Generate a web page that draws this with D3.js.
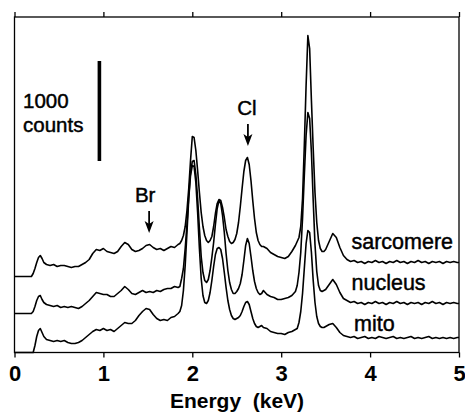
<!DOCTYPE html>
<html>
<head>
<meta charset="utf-8">
<script src="https://cdn.jsdelivr.net/npm/d3@7"></script>
<style>
  html, body { margin: 0; padding: 0; background: #fff; }
  svg { display: block; }
  text { font-family: "Liberation Sans", Arial, Helvetica, sans-serif; fill: #000; }
</style>
</head>
<body>
<svg id="chart" width="465" height="414"></svg>
<script>
// ---------- data ----------
const energyKeV = [
  0, 0.10, 0.19, 0.21, 0.23, 0.25, 0.27, 0.29, 0.31, 0.33, 0.36,
  0.40, 0.44, 0.48, 0.52, 0.56, 0.60, 0.64, 0.68, 0.72, 0.76, 0.80, 0.84, 0.88, 0.92, 0.96,
  1.00, 1.04, 1.08, 1.12, 1.16, 1.20, 1.24, 1.28, 1.32, 1.36, 1.40, 1.44, 1.48, 1.52, 1.56,
  1.60, 1.64, 1.68, 1.72, 1.76, 1.80, 1.84,
  1.86, 1.88, 1.90, 1.92, 1.94, 1.96, 1.98, 2.00, 2.02, 2.04, 2.06, 2.08, 2.10, 2.12, 2.14,
  2.16, 2.18, 2.20, 2.22, 2.24, 2.26, 2.28, 2.30, 2.32, 2.34, 2.36, 2.38, 2.40, 2.42, 2.44,
  2.46, 2.48, 2.50, 2.52, 2.54, 2.56, 2.58, 2.60, 2.62, 2.64, 2.66, 2.68, 2.70, 2.72, 2.74,
  2.76, 2.78, 2.80,
  2.84, 2.88, 2.92, 2.96, 3.00, 3.04, 3.08, 3.12,
  3.14, 3.16, 3.18, 3.20, 3.22, 3.24, 3.26, 3.28, 3.30, 3.32, 3.34, 3.36, 3.38, 3.40, 3.42,
  3.44, 3.46, 3.48, 3.50,
  3.54, 3.58, 3.62, 3.66, 3.70, 3.74, 3.78, 3.82, 3.86, 3.90, 3.94, 3.98, 4.02, 4.06, 4.10,
  4.14, 4.18, 4.22, 4.26, 4.30, 4.34, 4.38, 4.42, 4.46, 4.50, 4.54, 4.58, 4.62, 4.66, 4.70,
  4.74, 4.78, 4.82, 4.86, 4.90, 4.94, 4.98, 5.00
];

const sarcomereCounts = [
  0, 0, 0, 30, 80, 140, 190, 210, 180, 140, 120,
  110, 120, 100, 110, 110, 100, 90, 100, 100, 120, 140, 170, 230, 270, 260,
  280, 250, 240, 230, 250, 300, 340, 320, 270, 250, 260, 280, 310, 320, 290,
  270, 280, 260, 280, 300, 290, 320,
  330, 360, 410, 500, 660, 880, 1160, 1400, 1390, 1260, 1060, 840, 640, 500, 410,
  360, 340, 360, 400, 500, 630, 730, 770, 760, 690, 590, 470, 400, 350, 330,
  340, 370, 430, 540, 700, 880, 1050, 1160, 1190, 1120, 960, 760, 580, 440, 360,
  320, 300, 300,
  280, 240, 220, 200, 190, 180, 200, 250,
  280, 310, 350, 390, 500, 780, 1310, 1910, 2410, 2280, 1760, 1280, 840, 540, 360,
  280, 250, 250, 270,
  350, 430, 390, 290, 210, 170, 150, 160, 140, 150, 130, 150, 140, 160, 140,
  150, 130, 150, 140, 160, 140, 150, 130, 150, 140, 160, 140, 150, 130, 150,
  140, 150, 130, 150, 140, 150, 140, 140
];

const nucleusCounts = [
  0, 0, 0, 20, 70, 130, 170, 180, 140, 110, 90,
  80, 70, 80, 60, 70, 60, 70, 60, 50, 70, 100, 130, 170, 210, 200,
  190, 190, 170, 170, 200, 230, 270, 240, 200, 190, 210, 230, 210, 220, 210,
  230, 220, 240, 250, 250, 270, 260,
  270, 350, 450, 650, 890, 1170, 1410, 1520, 1530, 1390, 1150, 850, 570, 410, 330,
  310, 340, 430, 560, 710, 890, 1050, 1130, 1100, 980, 810, 600, 430, 310, 240,
  200, 200, 220, 250, 300, 390, 530, 680, 750, 700, 570, 430, 320, 250, 210,
  190, 200, 230,
  190, 170, 160, 140, 140, 150, 160, 180,
  200, 220, 280, 410, 610, 950, 1380, 1780, 2010, 1950, 1610, 1130, 690, 420, 280,
  230, 220, 230, 240,
  290, 340, 290, 210, 150, 130, 110, 120, 100, 110, 90, 110, 100, 120, 100,
  110, 90, 110, 100, 120, 100, 110, 90, 110, 100, 110, 90, 110, 100, 120,
  100, 110, 90, 110, 100, 110, 100, 100
];

const mitoCounts = [
  0, 0, 0, 0, 70, 160, 220, 240, 200, 160, 130,
  120, 110, 120, 110, 120, 100, 90, 90, 100, 120, 150, 180, 210, 230, 220,
  240, 220, 230, 210, 240, 270, 300, 290, 290, 320, 370, 410, 440, 430, 380,
  340, 320, 330, 320, 350, 360, 390,
  410, 470, 620, 870, 1200, 1540, 1770, 1870, 1860, 1700, 1400, 1040, 740, 570, 500,
  490, 520, 600, 720, 860, 980, 1040, 1050, 1030, 940, 800, 650, 520, 430, 370,
  340, 330, 340, 350, 370, 410, 460, 500, 510, 480, 410, 340, 290, 260, 250,
  260, 270, 250,
  240, 210, 200, 190, 190, 180, 200, 210,
  220, 230, 240, 300, 410, 590, 840, 1090, 1220, 1200, 1000, 720, 500, 360, 290,
  260, 250, 250, 260,
  280, 290, 250, 200, 170, 160, 150, 160, 140, 150, 160, 140, 150, 140, 160,
  150, 140, 150, 160, 140, 150, 140, 150, 160, 140, 150, 140, 150, 160, 140,
  150, 140, 150, 140, 150, 140, 150, 150
];

const traceNames = ["sarcomere", "nucleus", "mito"];
const traceOffsets = [760, 390, 0];          // vertical offset of each stacked spectrum (counts)
const xTickValues = [0, 1, 2, 3, 4, 5];
const peakNames = ["Br", "Cl"];
const peakEnergies = [1.52, 2.62];
const scaleBarCounts = 1000;
const scaleBarLabel = ["1000", "counts"];
const xAxisTitle = "Energy  (keV)";

(function draw() {
  const svg = d3.select("#chart");
  const mLeft = 14.5, mRight = 459, mTop = 17, mBottom = 352.5;
  const x = d3.scaleLinear().domain([0, 5]).range([mLeft, mRight]);
  const y = d3.scaleLinear().domain([0, 3355]).range([mBottom, mTop]);

  const seriesCounts = [sarcomereCounts, nucleusCounts, mitoCounts];

  const line = d3.line()
    .x((d, i) => x(energyKeV[i]))
    .y(d => y(d));

  seriesCounts.forEach((vals, k) => {
    const shifted = vals.map(v => v + traceOffsets[k]);
    svg.append("path")
      .datum(shifted)
      .attr("d", line)
      .attr("fill", "none")
      .attr("stroke", "#000")
      .attr("stroke-width", 1.6)
      .attr("stroke-linejoin", "round");
  });

  // frame
  svg.append("rect")
    .attr("x", mLeft).attr("y", mTop)
    .attr("width", mRight - mLeft).attr("height", mBottom - mTop)
    .attr("fill", "none").attr("stroke", "#000").attr("stroke-width", 1.3);

  // bottom axis
  const gx = svg.append("g")
    .attr("transform", `translate(0,${mBottom})`)
    .call(d3.axisBottom(x).tickValues(xTickValues).tickSize(5).tickPadding(8).tickFormat(d3.format("d")));
  gx.select(".domain").remove();
  gx.selectAll("line").attr("stroke", "#000").attr("stroke-width", 1.3);
  gx.selectAll("text")
    .style("font-family", '"Liberation Sans", Arial, sans-serif')
    .style("font-size", "22px")
    .style("font-weight", "bold")
    .attr("fill", "#000");

  // top axis ticks
  const gt = svg.append("g")
    .attr("transform", `translate(0,${mTop})`)
    .call(d3.axisTop(x).tickValues(xTickValues).tickSize(5).tickFormat(""));
  gt.select(".domain").remove();
  gt.selectAll("line").attr("stroke", "#000").attr("stroke-width", 1.3);

  // axis title
  svg.append("text")
    .attr("x", 237).attr("y", 408)
    .attr("text-anchor", "middle")
    .style("font-size", "21px")
    .style("font-weight", "bold")
    .style("white-space", "pre")
    .text(xAxisTitle);

  const medium = sel => sel.attr("stroke", "#000").attr("stroke-width", 0.45);

  // scale bar
  const barBase = 1915;
  svg.append("line")
    .attr("x1", x(0.955)).attr("x2", x(0.955))
    .attr("y1", y(barBase)).attr("y2", y(barBase + scaleBarCounts))
    .attr("stroke", "#000").attr("stroke-width", 3.6);
  svg.append("text").attr("x", 23).attr("y", 108)
    .style("font-size", "20.5px").text(scaleBarLabel[0]).call(medium);
  svg.append("text").attr("x", 23).attr("y", 132)
    .style("font-size", "20.5px").text(scaleBarLabel[1]).call(medium);

  // peak annotations with arrows
  const bisect = d3.bisector(d => d).left;
  peakNames.forEach((name, k) => {
    const e = peakEnergies[k];
    const idx = bisect(energyKeV, e);
    const tipY = y(sarcomereCounts[idx] + traceOffsets[0]) - 11.5;
    const ax = x(e) + (k === 0 ? -0.5 : 0.5);
    const shaftTop = tipY - 22;
    svg.append("line")
      .attr("x1", ax).attr("x2", ax)
      .attr("y1", shaftTop).attr("y2", tipY - 6)
      .attr("stroke", "#000").attr("stroke-width", 1.8);
    svg.append("path")
      .attr("d", `M${ax - 4.5},${tipY - 12} L${ax},${tipY - 9} L${ax + 4.5},${tipY - 12} L${ax},${tipY} Z`)
      .attr("fill", "#000");
    svg.append("text")
      .attr("x", ax + (k === 0 ? -4 : -1))
      .attr("y", shaftTop - 9)
      .attr("text-anchor", "middle")
      .style("font-size", "20.5px")
      .text(name).call(medium);
  });

  // trace labels
  const labelY = [249, 290, 331];
  traceNames.forEach((name, k) => {
    svg.append("text")
      .attr("x", k === 2 ? 354 : 351.5)
      .attr("y", labelY[k])
      .style("font-size", "21.5px")
      .text(name).call(medium);
  });
})();
</script>
</body>
</html>
